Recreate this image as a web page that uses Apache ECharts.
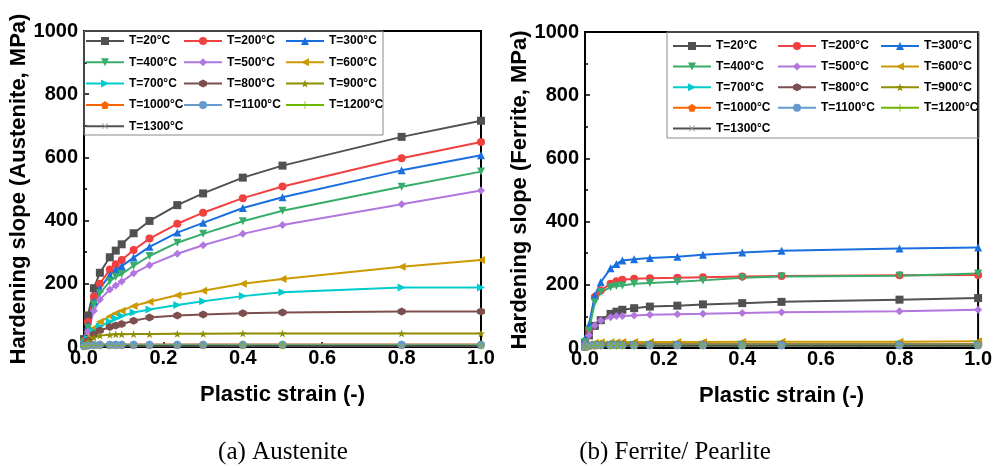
<!DOCTYPE html>
<html>
<head>
<meta charset="utf-8">
<script src="https://cdn.jsdelivr.net/npm/echarts@6/dist/echarts.min.js"></script>
<style>
html,body{margin:0;padding:0;background:#fff;}
#c{width:995px;height:466px;}
</style>
</head>
<body>
<div id="c"></div>
<script>
// Plastic strain sample points shared by every curve
const strain = [0, 0.01, 0.025, 0.04, 0.065, 0.08, 0.095, 0.125, 0.165, 0.235, 0.3, 0.4, 0.5, 0.8, 1.0];

// Temperatures (legend labels)
const tempLabels = ['T=20°C','T=200°C','T=300°C','T=400°C','T=500°C','T=600°C','T=700°C',
                    'T=800°C','T=900°C','T=1000°C','T=1100°C','T=1200°C','T=1300°C'];

// Hardening slope of austenite, MPa
const aus20   = [25, 100, 186, 235, 284, 305, 325, 360, 399, 449, 486, 536, 574, 665, 716];
const aus200  = [20, 80, 160, 200, 245, 262, 275, 307, 343, 390, 425, 471, 508, 597, 649];
const aus300  = [18, 70, 145, 185, 228, 245, 256, 283, 317, 362, 393, 440, 474, 559, 607];
const aus400  = [15, 60, 135, 170, 208, 222, 231, 257, 288, 330, 358, 398, 431, 507, 555];
const aus500  = [12, 50, 115, 150, 182, 195, 207, 233, 259, 295, 322, 358, 386, 452, 495];
const aus600  = [8, 30, 60, 80, 97, 107, 115, 130, 143, 164, 178, 200, 215, 254, 275];
const aus700  = [8, 25, 50, 65, 80, 90, 98, 109, 119, 133, 145, 161, 173, 188, 188];
const aus800  = [6, 20, 40, 52, 63, 68, 73, 83, 93, 100, 103, 107, 109, 112, 112];
const aus900  = [5, 18, 30, 36, 39, 40, 40, 41, 41, 42, 42, 43, 43, 43, 43];
const aus1000 = [3, 6, 7, 8, 8, 8, 8, 8, 8, 8, 8, 8, 8, 8, 8];
const aus1100 = [3, 5, 6, 7, 7, 7, 7, 7, 7, 7, 7, 7, 7, 7, 7];
const aus1200 = [2, 4, 5, 5, 5, 5, 5, 5, 5, 5, 5, 5, 5, 5, 5];
const aus1300 = [1, 2, 3, 3, 3, 3, 3, 3, 3, 3, 3, 3, 3, 3, 3];

// Hardening slope of ferrite / pearlite, MPa
const fer20   = [15, 40, 70, 88, 108, 115, 121, 126, 131, 134, 138, 142, 146, 153, 158];
const fer200  = [20, 61, 161, 182, 203, 211, 216, 219, 221, 222, 224, 226, 228, 230, 231];
const fer300  = [30, 73, 166, 208, 252, 266, 277, 281, 285, 289, 295, 302, 308, 315, 318];
const fer400  = [18, 55, 145, 177, 192, 196, 198, 203, 206, 210, 214, 222, 226, 229, 236];
const fer500  = [12, 40, 71, 87, 97, 101, 101, 103, 105, 107, 108, 111, 113, 116, 121];
const fer600  = [5, 12, 17, 18, 18, 18, 19, 19, 19, 19, 19, 20, 20, 20, 21];
const fer700  = [4, 9, 11, 12, 12, 12, 12, 12, 12, 12, 12, 12, 12, 12, 12];
const fer800  = [4, 8, 10, 11, 11, 11, 11, 11, 11, 11, 11, 11, 11, 11, 11];
const fer900  = [3, 8, 10, 10, 10, 10, 10, 10, 10, 10, 10, 10, 10, 10, 10];
const fer1000 = [3, 7, 9, 10, 10, 10, 10, 10, 10, 10, 10, 10, 10, 10, 10];
const fer1100 = [3, 7, 9, 9, 9, 9, 9, 9, 9, 9, 9, 9, 9, 9, 9];
const fer1200 = [2, 6, 8, 8, 8, 8, 8, 8, 8, 8, 8, 8, 8, 8, 8];
const fer1300 = [2, 5, 7, 7, 7, 7, 7, 7, 7, 7, 7, 7, 7, 7, 7];

const ausSets = [aus20, aus200, aus300, aus400, aus500, aus600, aus700, aus800, aus900, aus1000, aus1100, aus1200, aus1300];
const ferSets = [fer20, fer200, fer300, fer400, fer500, fer600, fer700, fer800, fer900, fer1000, fer1100, fer1200, fer1300];

// Axis tick values
const xTicks = [0, 0.2, 0.4, 0.6, 0.8, 1.0];
const yTicks = [0, 200, 400, 600, 800, 1000];

// Line colours and marker shapes per temperature
const colors = ['#515151','#F14040','#1A6FDF','#37AD6B','#B177DE','#CC9900','#00CBCC',
                '#7D4E4E','#8E8E00','#FB6501','#6699CC','#6FB802','#515151'];
const markerColors = colors.slice(0, 12).concat(['#9a9a9a']);
const STAR = 'path://M0,-10L2.35,-3.24L9.51,-3.09L3.8,1.24L5.88,8.09L0,4L-5.88,8.09L-3.8,1.24L-9.51,-3.09L-2.35,-3.24Z';
const PENTA = 'path://M0,-10L9.51,-3.09L5.88,8.09L-5.88,8.09L-9.51,-3.09Z';
const HEXA = 'path://M0,-10L8.66,-5L8.66,5L0,10L-8.66,5L-8.66,-5Z';
const PLUS = 'path://M-1,-10H1V-1H10V1H1V10H-1V1H-10V-1H-1Z';
const symbols = ['rect','circle','triangle','triangle','diamond','triangle','triangle',
                 HEXA, STAR, PENTA, 'circle', PLUS, PLUS];
const rotations = [0, 0, 0, 180, 0, 90, -90, 0, 0, 0, 0, 0, 45];

const FONT = '"Liberation Sans", Arial, sans-serif';

function buildSeries(sets, gi) {
  return sets.map((vals, i) => ({
    name: tempLabels[i],
    type: 'line',
    xAxisIndex: gi,
    yAxisIndex: gi,
    data: strain.map((s, k) => [s, vals[k]]),
    symbol: symbols[i],
    symbolRotate: rotations[i],
    symbolSize: 8,
    showAllSymbol: true,
    lineStyle: { color: colors[i], width: 2 },
    itemStyle: { color: markerColors[i] },
    emphasis: { disabled: true },
    animation: false
  }));
}

function xAxisOf(gi) {
  return {
    gridIndex: gi, type: 'value', min: 0, max: 1, interval: 0.2,
    name: 'Plastic strain (-)', nameLocation: 'middle', nameGap: 37,
    nameTextStyle: { fontFamily: FONT, fontWeight: 'bold', fontSize: 22, color: '#000' },
    axisLine: { show: true, onZero: false, lineStyle: { color: '#000', width: 2 } },
    axisTick: { show: true, inside: true, length: 5, lineStyle: { color: '#000', width: 1.5 } },
    minorTick: { show: true, splitNumber: 2, length: 3, lineStyle: { color: '#000', width: 1.5 } },
    splitLine: { show: false },
    axisLabel: {
      fontFamily: FONT, fontWeight: 'bold', fontSize: 20, color: '#000', margin: 1,
      formatter: v => { const t = xTicks.find(x => Math.abs(x - v) < 1e-9); return t === undefined ? '' : t.toFixed(1); }
    }
  };
}

function yAxisOf(gi, title, gap) {
  return {
    gridIndex: gi, type: 'value', min: 0, max: 1000, interval: 200,
    name: title, nameLocation: 'middle', nameGap: gap,
    nameTextStyle: { fontFamily: FONT, fontWeight: 'bold', fontSize: 22, color: '#000' },
    axisLine: { show: true, onZero: false, lineStyle: { color: '#000', width: 2 } },
    axisTick: { show: true, inside: true, length: 5, lineStyle: { color: '#000', width: 1.5 } },
    minorTick: { show: true, splitNumber: 2, length: 3, lineStyle: { color: '#000', width: 1.5 } },
    splitLine: { show: false },
    axisLabel: {
      fontFamily: FONT, fontWeight: 'bold', fontSize: 20, color: '#000', margin: 6,
      formatter: v => (yTicks.indexOf(v) >= 0 ? String(v) : '')
    }
  };
}

// Legend columns (3 per panel)
const legendCols = [
  ['T=20°C','T=400°C','T=700°C','T=1000°C','T=1300°C'],
  ['T=200°C','T=500°C','T=800°C','T=1100°C'],
  ['T=300°C','T=600°C','T=900°C','T=1200°C']
];
function legendCol(data, left, top, gap) {
  return {
    data, left, top, orient: 'vertical', padding: 0, itemGap: gap,
    itemWidth: 38, itemHeight: 10, selectedMode: false,
    textStyle: { fontFamily: FONT, fontWeight: 'bold', fontSize: 12, color: '#000', lineHeight: 14 }
  };
}

const option = {
  backgroundColor: '#fff',
  animation: false,
  grid: [
    { left: 84, right: 514, top: 31, bottom: 119, show: true, borderColor: '#000', borderWidth: 2 },
    { left: 585, right: 16, top: 32, bottom: 118, show: true, borderColor: '#000', borderWidth: 2 }
  ],
  xAxis: [xAxisOf(0), xAxisOf(1)],
  yAxis: [yAxisOf(0, 'Hardening slope (Austenite, MPa)', 49), yAxisOf(1, 'Hardening slope (Ferrite, MPa)', 53)],
  legend: [
    legendCol(legendCols[0], 85, 34, 7.3),
    legendCol(legendCols[1], 183, 34, 7.3),
    legendCol(legendCols[2], 285, 34, 7.3),
    legendCol(legendCols[0], 672, 39, 6.6),
    legendCol(legendCols[1], 777, 39, 6.6),
    legendCol(legendCols[2], 880, 39, 6.6)
  ],
  graphic: [
    { type: 'rect', shape: { x: 84, y: 31, width: 299, height: 104 }, style: { fill: 'none', stroke: '#8a8a8a', lineWidth: 1 }, silent: true, z: 5 },
    { type: 'rect', shape: { x: 667, y: 32, width: 312, height: 106 }, style: { fill: 'none', stroke: '#8a8a8a', lineWidth: 1 }, silent: true, z: 5 },
    { type: 'text', x: 283, y: 452, style: { text: '(a) Austenite', font: '25px "Liberation Serif", "Times New Roman", serif', fill: '#000', align: 'center', verticalAlign: 'middle' }, silent: true },
    { type: 'text', x: 675, y: 452, style: { text: '(b) Ferrite/ Pearlite', font: '25px "Liberation Serif", "Times New Roman", serif', fill: '#000', align: 'center', verticalAlign: 'middle' }, silent: true }
  ],
  series: buildSeries(ausSets, 0).concat(buildSeries(ferSets, 1))
};

const chart = echarts.init(document.getElementById('c'), null, { renderer: 'canvas' });
chart.setOption(option);
</script>
</body>
</html>
